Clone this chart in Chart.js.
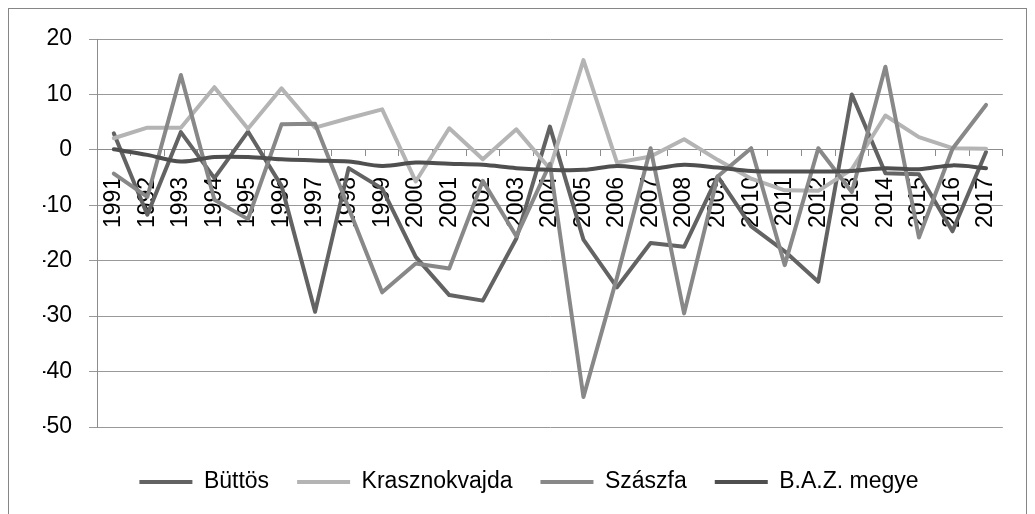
<!DOCTYPE html>
<html>
<head>
<meta charset="utf-8">
<script src="https://cdn.jsdelivr.net/npm/chart.js@4.4.1/dist/chart.umd.min.js"></script>
<style>
  html, body { margin: 0; padding: 0; background: #fff; }
  #wrap { position: relative; width: 1035px; height: 514px; overflow: hidden; }
  #frame { position: absolute; left: 8px; top: 8px; width: 1019px; height: 530px; border: 1px solid #868686; box-sizing: border-box; pointer-events: none; }
  canvas { position: absolute; left: 0; top: 0; }
</style>
</head>
<body>
<div id="wrap">
  <canvas id="c" width="1035" height="514"></canvas>
  <div id="frame"></div>
</div>
<script>
const years = ['1991','1992','1993','1994','1995','1996','1997','1998','1999','2000','2001','2002','2003','2004','2005','2006','2007','2008','2009','2010','2011','2012','2013','2014','2015','2016','2017'];
const buttos = [3.0, -11.7, 3.2, -5.1, 3.3, -6.5, -29.2, -3.3, -7.0, -19.3, -26.2, -27.2, -16.0, 4.2, -16.2, -24.8, -16.8, -17.5, -4.8, -13.8, -18.3, -23.8, 10.0, -4.2, -4.4, -14.7, -0.4];
const krasznokvajda = [2.1, 4.0, 4.0, 11.3, 3.8, 11.1, 4.0, 5.7, 7.3, -5.7, 3.9, -1.7, 3.7, -3.4, 16.2, -2.3, -1.2, 1.9, -1.8, -5.2, -7.3, -7.4, -3.5, 6.2, 2.3, 0.3, 0.2];
const szaszfa = [-4.3, -8.5, 13.5, -9.0, -12.5, 4.6, 4.7, -10.5, -25.7, -20.5, -21.4, -5.6, -15.6, -2.5, -44.6, -23.0, 0.3, -29.5, -4.8, 0.3, -20.8, 0.3, -7.6, 15.0, -15.8, 0.2, 8.1];
const baz = [0.1, -0.9, -2.1, -1.3, -1.3, -1.7, -1.9, -2.1, -2.9, -2.3, -2.5, -2.7, -3.3, -3.6, -3.6, -2.9, -3.4, -2.7, -3.2, -3.8, -3.9, -3.9, -3.8, -3.3, -3.5, -2.8, -3.3];
const seriesNames = ['Büttös', 'Krasznokvajda', 'Szászfa', 'B.A.Z. megye'];
const seriesColors = ['#636363', '#b4b4b4', '#888888', '#4f4f4f'];
const yTicks = [20, 10, 0, -10, -20, -30, -40, -50];

const FONT = 'Liberation Sans';
const seriesData = [buttos, krasznokvajda, szaszfa, baz];
const datasets = seriesData.map((d, i) => ({
  label: seriesNames[i],
  data: d,
  borderColor: seriesColors[i],
  backgroundColor: seriesColors[i],
  borderWidth: 4,
  pointRadius: 0,
  pointHoverRadius: 0,
  tension: i === 3 ? 0.35 : 0,
  borderJoinStyle: 'round',
  borderCapStyle: 'round',
  fill: false,
  order: 3 - i
}));

new Chart(document.getElementById('c'), {
  type: 'line',
  data: { labels: years, datasets },
  options: {
    responsive: false,
    animation: false,
    layout: { padding: { left: 43, top: 39, right: 20, bottom: 10.5 } },
    plugins: {
      tooltip: { enabled: false },
      legend: {
        position: 'bottom',
        title: { display: true, text: '', font: { size: 10, lineHeight: 1.55 }, padding: 0 },
        labels: {
          boxWidth: 53,
          boxHeight: 4,
          padding: 28,
          color: '#000',
          font: { family: FONT, size: 23 },
          generateLabels: (chart) => {
            const items = Chart.defaults.plugins.legend.labels.generateLabels(chart);
            items.forEach(it => { it.lineWidth = 0; });
            return items.sort((a, b) => a.datasetIndex - b.datasetIndex);
          }
        }
      }
    },
    scales: {
      x: {
        type: 'category',
        position: { y: 0 },
        offset: true,
        grid: { offset: true, drawOnChartArea: false, drawTicks: true, tickLength: 6, color: '#8c8c8c', lineWidth: 1 },
        border: { display: true, color: '#8c8c8c', width: 1 },
        ticks: { autoSkip: false, minRotation: 90, maxRotation: 90, padding: 21, color: '#000', font: { family: FONT, size: 23 } }
      },
      y: {
        min: -50,
        max: 20,
        afterFit: (s) => { s.width = 54; },
        afterBuildTicks: (s) => { s.ticks = yTicks.slice().reverse().map(v => ({ value: v })); },
        grid: { color: '#999999', lineWidth: 1, tickLength: 8, drawTicks: true },
        border: { display: true, color: '#8c8c8c', width: 1 },
        ticks: { padding: 17, color: '#000', font: { family: FONT, size: 23 } }
      }
    }
  }
});
</script>
</body>
</html>
